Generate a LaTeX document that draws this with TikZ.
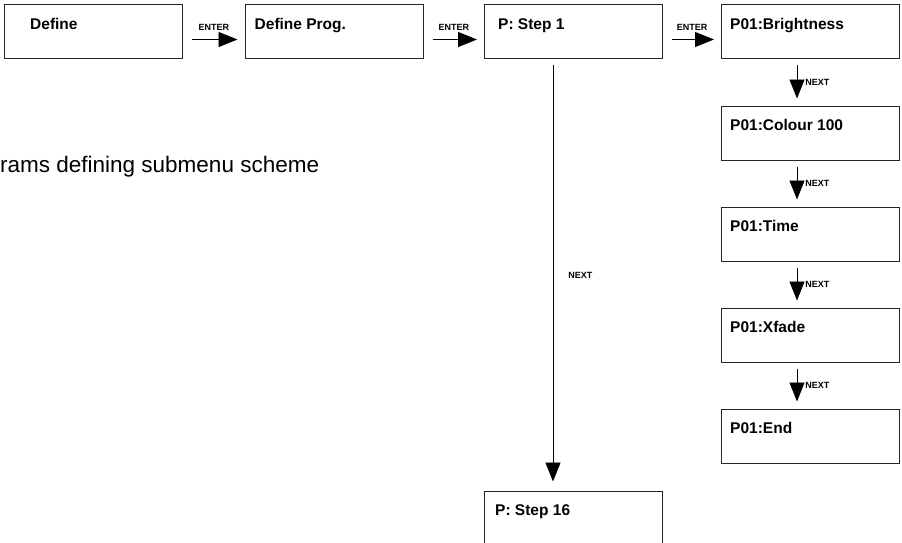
\documentclass[tikz,border=0pt]{standalone}
\usepackage{fontspec}
\setmainfont{Liberation Sans}
\usepackage{tikz}
\usetikzlibrary{arrows.meta,positioning,calc}

\begin{document}
\begin{tikzpicture}[
    x=1pt, y=-1pt,
    box/.style={rectangle, draw=black!85, line width=1pt, minimum width=178pt, minimum height=54pt, inner sep=0pt},
    boxtext/.style={font=\fontsize{15.5}{18}\selectfont\bfseries, inner sep=0pt, anchor=base west},
    key/.style={font=\fontsize{9}{10}\selectfont\bfseries, inner sep=0pt},
    arrow/.style={-{Triangle[length=19pt,width=15pt]}, line width=0.9pt, shorten <=9pt, shorten >=7pt}
]
\useasboundingbox (0,0) rectangle (902,543);
\clip (0,0) rectangle (902,543);

% Top row
\node[box] (define) at (93.5,32) {};
\node[box] (defprog) at (334,32) {};
\node[box] (step1) at (573.5,32) {};
\node[box] (bright) at (810.5,32) {};

% Parameter column
\node[box] (colour) at (810.5,133) {};
\node[box] (time) at (810.5,234) {};
\node[box] (xfade) at (810.5,335) {};
\node[box] (end) at (810.5,436) {};

% Last step
\node[box] (step16) at (573.5,518) {};

% Box texts
\node[boxtext] (definetxt) at ([xshift=26pt,yshift=2.5pt]define.west) {Define};
\node[boxtext] (defprogtxt) at ([xshift=10pt,yshift=2.5pt]defprog.west) {Define Prog.};
\node[boxtext] (step1txt) at ([xshift=14pt,yshift=2.5pt]step1.west) {P: Step 1};
\node[boxtext] (brighttxt) at ([xshift=9pt,yshift=2.5pt]bright.west) {P01:Brightness};
\node[boxtext] (colourtxt) at ([xshift=9pt,yshift=2.5pt]colour.west) {P01:Colour 100};
\node[boxtext] (timetxt) at ([xshift=9pt,yshift=2.5pt]time.west) {P01:Time};
\node[boxtext] (xfadetxt) at ([xshift=9pt,yshift=2.5pt]xfade.west) {P01:Xfade};
\node[boxtext] (endtxt) at ([xshift=9pt,yshift=2.5pt]end.west) {P01:End};
\node[boxtext] (step16txt) at ([xshift=11pt,yshift=2.5pt]step16.west) {P: Step 16};

% Caption
\node[anchor=base west, inner sep=0pt, font=\fontsize{22.5}{25}\selectfont] (caption) at (0,172) {rams defining submenu scheme};

% Enter arrows
\draw[arrow] ([yshift=-7.5pt]define.east) -- ([yshift=-7.5pt]defprog.west) node[key, midway, above=8.5pt] {ENTER};
\draw[arrow] ([yshift=-7.5pt]defprog.east) -- ([yshift=-7.5pt]step1.west) node[key, midway, above=8.5pt] {ENTER};
\draw[arrow] ([yshift=-7.5pt]step1.east) -- ([yshift=-7.5pt]bright.west) node[key, midway, above=8.5pt] {ENTER};

% Next arrows
\draw[arrow, shorten <=6pt] ([xshift=-13.5pt]bright.south) -- ([xshift=-13.5pt]colour.north) node[key, midway, right=8pt] {NEXT};
\draw[arrow, shorten <=6pt] ([xshift=-13.5pt]colour.south) -- ([xshift=-13.5pt]time.north) node[key, midway, right=8pt] {NEXT};
\draw[arrow, shorten <=6pt] ([xshift=-13.5pt]time.south) -- ([xshift=-13.5pt]xfade.north) node[key, midway, right=8pt] {NEXT};
\draw[arrow, shorten <=6pt] ([xshift=-13.5pt]xfade.south) -- ([xshift=-13.5pt]end.north) node[key, midway, right=8pt] {NEXT};
\draw[arrow, shorten <=6pt, shorten >=9pt] ([xshift=-20.5pt]step1.south) -- ([xshift=-20.5pt]step16.north) node[key, midway, right=15pt] {NEXT};

\end{tikzpicture}
\end{document}
